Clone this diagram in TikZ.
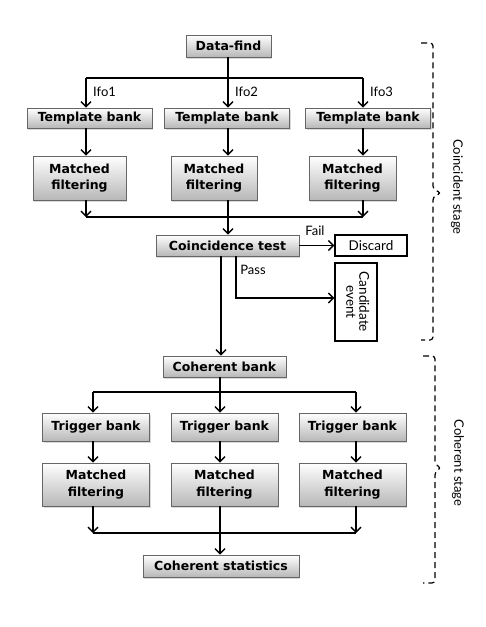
\documentclass[tikz,border=0pt]{standalone}
\usepackage{fontspec}
\setmainfont{Lato}
\newfontfamily\boxfont{DejaVu Sans}
\usetikzlibrary{shadows,arrows.meta}
\tikzset{
  box/.style={draw=black!60, line width=0.8pt, top color=white, bottom color=black!28,
    drop shadow={shadow xshift=1.2pt, shadow yshift=-1.5pt, opacity=0.3},
    font=\fontsize{12.5}{16.5}\selectfont\boxfont\bfseries, align=center, inner sep=0pt},
  plain/.style={draw, line width=1.3pt, fill=white, align=center, inner sep=0pt,
    font=\fontsize{13.5}{16}\selectfont},
  lbl/.style={font=\fontsize{13}{15}\selectfont, inner sep=0pt},
  line/.style={line width=1.4pt},
  arr/.style={line width=1.4pt, -{Straight Barb[length=5pt,width=10pt,line width=1.4pt]}},
  stage/.style={line width=1.2pt, dash pattern=on 6pt off 4pt, rounded corners=3pt}
}
\begin{document}
\begin{tikzpicture}[x=1pt,y=-1pt]
  \useasboundingbox (0,0) rectangle (485,627);
  % coincident stage
  \node[box, minimum width=85pt, minimum height=22pt] (data) at (228.5,46) {Data-find};
  \foreach \i/\x/\tx in {1/86/89.5, 2/228/227, 3/363/368} {
    \coordinate (a\i) at (\x,78);
    \coordinate (b\i) at (\x,217);
    \node[box, minimum width=125pt, minimum height=20pt] (tb\i) at (\tx,118) {Template bank};
    \node[lbl, anchor=west] (ifo\i) at (\x+7,92) {Ifo\i};
  }
  \foreach \i/\x/\w in {1/79.5/93, 2/214/86, 3/352.5/87}
    \node[box, minimum width=\w pt, minimum height=44pt] (mf\i) at (\x,178) {Matched\\filtering};
  \node[box, minimum width=143pt, minimum height=21pt] (co) at (227.5,245.5) {Coincidence test};
  \node[plain, minimum width=72pt, minimum height=21pt] (discard) at (371,245.5) {Discard};
  \node[plain, minimum width=42pt, minimum height=78pt] (cand) at (356,302)
    {\rotatebox{-90}{\begin{tabular}{@{}c@{}}Candidate\\[-3pt]event\end{tabular}}};
  \node[lbl] (fail) at (315,231) {Fail};
  \node[lbl] (pass) at (253,270) {Pass};
  \coordinate (p1) at (236,298);
  \coordinate (trunk) at (221,300);

  \draw[line] (data.south -| a2) -- (a2);
  \draw[line] (a1) -- (a3);
  \foreach \i in {1,2,3} {
    \draw[arr] (a\i) -- (a\i |- tb\i.north);
    \draw[arr] (a\i |- tb\i.south) -- (a\i |- mf\i.north);
  }
  \draw[arr] (a1 |- mf1.south) -- (b1);
  \draw[arr] (a3 |- mf3.south) -- (b3);
  \draw[line] (b1) -- (b3);
  \draw[arr] (a2 |- mf2.south) -- (a2 |- co.north);
  \draw[arr] (co) -- (discard);
  \draw[arr] (p1 |- co.south) -- (p1) -- (p1 -| cand.west);

  % coherent stage
  \node[box, minimum width=123pt, minimum height=21pt] (cb) at (224.5,366.5) {Coherent bank};
  \foreach \i/\x/\tx in {1/93/96, 2/220/224.5, 3/356/352.5} {
    \coordinate (c\i) at (\x,392);
    \coordinate (d\i) at (\x,533);
    \node[box, minimum width=107pt, minimum height=28pt] (tg\i) at (\tx,427) {Trigger bank};
    \node[box, minimum width=107pt, minimum height=43pt] (mg\i) at (\tx,484.5) {Matched\\filtering};
  }
  \node[box, minimum width=156pt, minimum height=22pt] (cs) at (221,566) {Coherent statistics};

  \draw[arr] (trunk |- co.south) -- (trunk |- cb.north);
  \draw[line] (cb.south -| c2) -- (c2);
  \draw[line] (c1) -- (c3);
  \foreach \i in {1,2,3} {
    \draw[arr] (c\i) -- (c\i |- tg\i.north);
    \draw[arr] (c\i |- tg\i.south) -- (c\i |- mg\i.north);
  }
  \draw[arr] (c1 |- mg1.south) -- (d1);
  \draw[arr] (c3 |- mg3.south) -- (d3);
  \draw[line] (d1) -- (d3);
  \draw[arr] (c2 |- mg2.south) -- (c2 |- cs.north);

  % stage braces
  \draw[stage] (421,43) -- (433,43) -- (433,189) -- (441,193) -- (433,197) -- (433,340) -- (421,340);
  \draw[stage] (423,356) -- (435,356) -- (435,464) -- (441,468) -- (435,472) -- (435,583) -- (423,583);
  \node[lbl, rotate=-90] (coinc) at (457,187) {Coincident stage};
  \node[lbl, rotate=-90] (coher) at (458,463) {Coherent stage};
\end{tikzpicture}
\end{document}
